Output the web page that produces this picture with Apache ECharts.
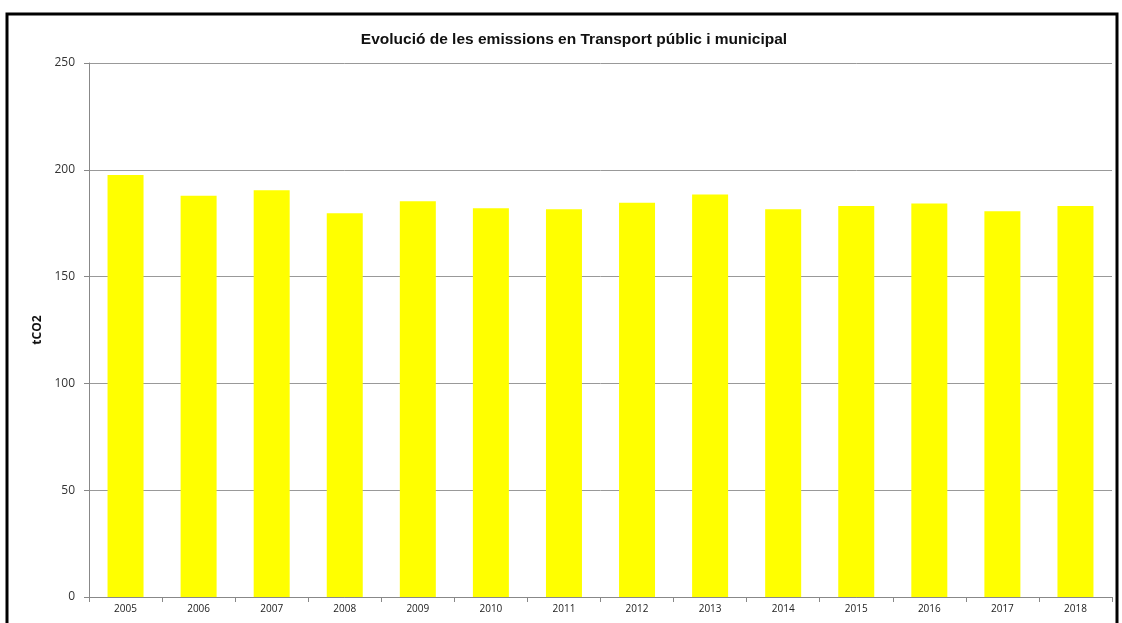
<!DOCTYPE html>
<html>
<head>
<meta charset="utf-8">
<script src="https://cdn.jsdelivr.net/npm/echarts@6/dist/echarts.min.js"></script>
<style>
  html, body { margin: 0; padding: 0; background: #fff; }
  #chart { width: 1122px; height: 623px; }
</style>
</head>
<body>
<div id="chart"></div>
<script>
// anys i emissions (tCO2)
var years = ['2005', '2006', '2007', '2008', '2009', '2010', '2011',
             '2012', '2013', '2014', '2015', '2016', '2017', '2018'];
var emissions = [197.6, 187.8, 190.4, 179.7, 185.3, 182.0, 181.5,
                 184.6, 188.4, 181.5, 183.0, 184.2, 180.6, 183.0];
var yTicks = [0, 50, 100, 150, 200, 250];

var myChart = echarts.init(document.getElementById('chart'));
var option = {
    animation: false,
    backgroundColor: '#fff',
    title: {
        text: 'Evolució de les emissions en Transport públic i municipal',
        left: 569,
        top: 27,
        textAlign: 'center',
        textStyle: {
            fontFamily: 'Liberation Sans, Arial, sans-serif',
            fontSize: 15.5,
            fontWeight: 'bold',
            color: '#111'
        }
    },
    graphic: [{
        type: 'rect',
        shape: { x: 7, y: 14, width: 1110, height: 640 },
        style: { fill: 'none', stroke: '#000', lineWidth: 3 },
        silent: true
    }],
    grid: {
        left: 89,
        right: 10,
        top: 63,
        bottom: 26
    },
    xAxis: {
        type: 'category',
        data: years,
        axisLine: { lineStyle: { color: '#888', width: 1 } },
        axisTick: { show: true, alignWithLabel: false, length: 5, lineStyle: { color: '#888' } },
        axisLabel: {
            fontFamily: 'Open Sans, sans-serif',
            fontSize: 10,
            color: '#222',
            margin: 7
        },
        splitLine: { show: false }
    },
    yAxis: {
        type: 'value',
        min: yTicks[0],
        max: yTicks[yTicks.length - 1],
        interval: 50,
        name: 'tCO2',
        nameLocation: 'middle',
        nameRotate: 90,
        nameGap: 37,
        nameTextStyle: {
            fontFamily: 'Open Sans, sans-serif',
            fontSize: 12,
            fontWeight: 'bold',
            color: '#111'
        },
        axisLine: { show: true, lineStyle: { color: '#888', width: 1 } },
        axisTick: { show: true, length: 5, lineStyle: { color: '#888' } },
        axisLabel: {
            fontFamily: 'Open Sans, sans-serif',
            fontSize: 12,
            color: '#333',
            margin: 14
        },
        splitLine: { show: true, lineStyle: { color: '#999', width: 1 } }
    },
    series: [{
        type: 'bar',
        data: emissions,
        barWidth: 36,
        itemStyle: { color: '#FFFF00' }
    }]
};
myChart.setOption(option);
</script>
</body>
</html>
